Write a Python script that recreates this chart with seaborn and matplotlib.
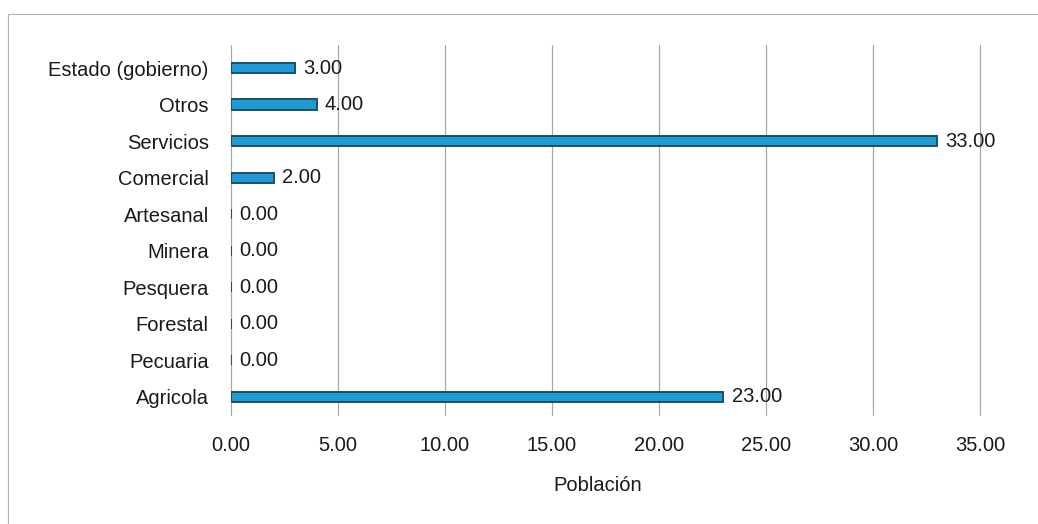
import matplotlib
matplotlib.use("Agg")
import matplotlib.pyplot as plt
from matplotlib.lines import Line2D
import seaborn as sns
import pandas as pd

categories = ["Estado (gobierno)", "Otros", "Servicios", "Comercial", "Artesanal",
              "Minera", "Pesquera", "Forestal", "Pecuaria", "Agricola"]
poblacion = [3.00, 4.00, 33.00, 2.00, 0.00, 0.00, 0.00, 0.00, 0.00, 23.00]
x_ticks = [0, 5, 10, 15, 20, 25, 30, 35]
x_label = "Población"

df = pd.DataFrame({"Actividad": categories, "Población": poblacion})

sns.set_theme(style="white")
plt.rcParams["font.family"] = ["Liberation Sans", "DejaVu Sans"]

fig = plt.figure(figsize=(10.38, 5.24), dpi=100)
fig.patch.set_facecolor("white")
ax = fig.add_axes([0.2225, 0.208, 0.7216, 0.706])

sns.barplot(data=df, x="Población", y="Actividad", orient="h", ax=ax,
            color="#1f9ad2", width=0.28, saturation=1,
            edgecolor="#1d4e6b", linewidth=1.4, zorder=3)

for cont in ax.containers:
    ax.bar_label(cont, labels=[f"{v:.2f}" for v in poblacion], padding=6,
                 fontsize=14.5, color="#1a1a1a")

ax.set_xlim(0, 35)
ax.set_ylim(9.5, -0.63)
ax.set_xticks(x_ticks)
ax.set_xticklabels([f"{t:.2f}" for t in x_ticks], fontsize=14.5, color="#1a1a1a")
ax.tick_params(axis="y", labelsize=14.5, labelcolor="#1a1a1a", length=0, pad=16)
ax.tick_params(axis="x", length=5, color="#9a9a9a", width=0.8, pad=10)
ax.xaxis.grid(True, color="#a8a8a8", linewidth=0.9, zorder=0)
for gl in ax.get_xgridlines():
    gl.set_clip_on(False)
ax.yaxis.grid(False)
for s in ax.spines.values():
    s.set_visible(False)
ax.set_ylabel("")
ax.set_xlabel(x_label, fontsize=14.5, color="#1a1a1a")
ax.xaxis.set_label_coords(0.49, -0.165)

# open frame: top and left edges only
fig.add_artist(Line2D([0.008, 1.0], [0.973, 0.973], transform=fig.transFigure,
                      color="#b5b5b5", linewidth=0.8))
fig.add_artist(Line2D([0.008, 0.008], [0.0, 0.973], transform=fig.transFigure,
                      color="#b5b5b5", linewidth=0.8))

fig.savefig("out.png", dpi=100, facecolor="white")
